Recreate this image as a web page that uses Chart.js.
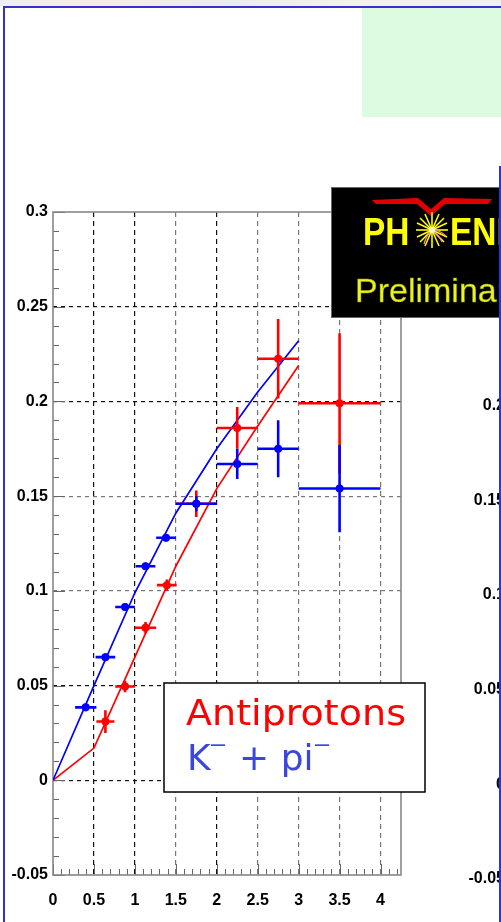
<!DOCTYPE html>
<html>
<head>
<meta charset="utf-8">
<script src="https://cdn.jsdelivr.net/npm/chart.js@4.4.1/dist/chart.umd.min.js"></script>
<style>
  body { margin: 0; background: #fff; }
  #page { position: relative; width: 501px; height: 922px; overflow: hidden; background: #fff; }
  .abs { position: absolute; }
  #strip { left: 0; top: 0; width: 501px; height: 6px; background: linear-gradient(90deg, #eeeef2, #f6ece8 20%, #e9ecf3 45%, #f4f2ee 70%, #eef0f4); }
  .blue { background: #3333cc; }
  #green { left: 362px; top: 8px; width: 139px; height: 109px; background: #ddfbe0; }
  #chart { left: 0; top: 0; }
  #logo { left: 332px; top: 188px; width: 169px; height: 129px; background: #000; box-shadow: 0 0 0 1px #666; overflow: hidden; }
</style>
</head>
<body>
<div id="page">
  <div id="strip" class="abs"></div>
  <div id="green" class="abs"></div>
  <canvas id="chart" class="abs" width="501" height="922"></canvas>
  <div id="logo" class="abs">
    <svg width="169" height="129" xmlns="http://www.w3.org/2000/svg">
      <polygon fill="#e00000" points="40,12 86,10 99,21 112,10 160,11 156,16 113,16 99,28 85,16 44,16"/>
      <g transform="translate(31,57) scale(0.88,1)">
        <text x="0" y="0" font-family="Liberation Sans" font-weight="bold" font-size="38" fill="#ffff00">PH</text>
      </g>
      <g stroke="#ffff00" stroke-width="1.6">
        <line x1="100" y1="24" x2="100" y2="60"/>
        <line x1="84" y1="42" x2="116" y2="42"/>
        <line x1="88" y1="30" x2="112" y2="54"/>
        <line x1="112" y1="30" x2="88" y2="54"/>
        <line x1="93" y1="26" x2="107" y2="58"/>
        <line x1="107" y1="26" x2="93" y2="58"/>
        <line x1="85" y1="35" x2="115" y2="49"/>
        <line x1="85" y1="49" x2="115" y2="35"/>
      </g>
      <g stroke="#ff88aa" stroke-width="1.2" fill="none">
        <path d="M100,42 q6,4 10,12"/>
        <path d="M100,42 q8,0 14,6"/>
        <path d="M100,42 q-6,6 -8,14"/>
      </g>
      <circle cx="100" cy="42" r="3" fill="#ffffcc"/>
      <g transform="translate(118,57) scale(0.88,1)">
        <text x="0" y="0" font-family="Liberation Sans" font-weight="bold" font-size="38" fill="#ffff00">ENIX</text>
      </g>
      <text x="23" y="114" font-family="Liberation Sans" font-size="34" fill="#f0f020" stroke="#88aa00" stroke-width="0.4">Preliminary</text>
    </svg>
  </div>
  <div class="abs blue" style="left:3px; top:6px; width:498px; height:2px;"></div>
  <div class="abs blue" style="left:3px; top:6px; width:2px; height:916px;"></div>
  <div class="abs blue" style="left:499px; top:166px; width:2px; height:756px;"></div>
</div>
<script>
// Antiprotons (red)
const pbarX    = [0.64, 0.88, 1.13, 1.39, 1.75, 2.25, 2.75, 3.5];
const pbarY    = [0.031, 0.0495, 0.0805, 0.103, 0.146, 0.186, 0.2225, 0.199];
const pbarXErr = [0.11, 0.12, 0.13, 0.12, 0.25, 0.25, 0.25, 0.5];
const pbarYErr = [0.006, 0.003, 0.003, 0.003, 0.007, 0.011, 0.021, 0.037];

// K- + pi- (blue)
const kpiX    = [0.4, 0.64, 0.88, 1.13, 1.38, 1.75, 2.25, 2.75, 3.5];
const kpiY    = [0.0385, 0.065, 0.0915, 0.113, 0.128, 0.146, 0.167, 0.175, 0.154];
const kpiXErr = [0.13, 0.12, 0.12, 0.12, 0.12, 0.25, 0.25, 0.25, 0.5];
const kpiYErr = [0.002, 0.002, 0.002, 0.002, 0.002, 0.004, 0.008, 0.015, 0.023];

// model curves
const fitX    = [0, 0.5, 1, 1.5, 2, 2.5, 3];
const pbarFit = [0, 0.017, 0.065, 0.113, 0.154, 0.187, 0.219];
const kpiFit  = [0, 0.05, 0.099, 0.141, 0.175, 0.205, 0.232];

// axes
const xTicks = [0, 0.5, 1, 1.5, 2, 2.5, 3, 3.5, 4];
const xTickLabels = ['0', '0.5', '1', '1.5', '2', '2.5', '3', '3.5', '4'];
const yTicks = [-0.05, 0, 0.05, 0.1, 0.15, 0.2, 0.25, 0.3];
const yTickLabels = ['-0.05', '0', '0.05', '0.1', '0.15', '0.2', '0.25', '0.3'];
const rightPanelTicks = [-0.05, 0, 0.05, 0.1, 0.15, 0.2];
const rightPanelLabels = ['-0.05', '0', '0.05', '0.1', '0.15', '0.2'];
const legendNames = ['Antiprotons', 'K', ' + pi'];
const SUP_MINUS = '\u207B';

const RED = '#ff0000';
const BLUE = '#0000ff';
const tickFont = { family: 'Liberation Sans', size: 16, weight: 'bold' };
const darkX = [0.5, 1, 2];
const darkY = [0, 0.05, 0.2, 0.25];

const toPoints = (xs, ys) => xs.map((v, i) => ({ x: v, y: ys[i] }));

const errorBars = {
  id: 'errorBars',
  beforeDatasetDraw(chart, args) {
    const ds = chart.data.datasets[args.index];
    if (!ds.xErr) return;
    const { ctx, scales: { x, y } } = chart;
    ctx.save();
    ctx.strokeStyle = ds.backgroundColor;
    ctx.lineWidth = 2.6;
    ds.data.forEach((p, i) => {
      const px = x.getPixelForValue(p.x);
      const py = y.getPixelForValue(p.y);
      ctx.beginPath();
      ctx.moveTo(x.getPixelForValue(p.x - ds.xErr[i]), py);
      ctx.lineTo(x.getPixelForValue(p.x + ds.xErr[i]), py);
      ctx.moveTo(px, y.getPixelForValue(p.y - ds.yErr[i]));
      ctx.lineTo(px, y.getPixelForValue(p.y + ds.yErr[i]));
      ctx.stroke();
    });
    ctx.restore();
  }
};

const frameAndTicks = {
  id: 'frameAndTicks',
  beforeDatasetsDraw(chart) {
    const { ctx, chartArea: a, scales: { x, y } } = chart;
    ctx.save();
    ctx.strokeStyle = '#666';
    ctx.lineWidth = 1;
    ctx.beginPath();
    for (let k = -5; k <= 30; k++) {
      const py = Math.round(y.getPixelForValue(k / 100)) + 0.5;
      const len = k % 5 === 0 ? 12 : 6;
      ctx.moveTo(a.left, py);
      ctx.lineTo(a.left + len, py);
    }
    for (let k = 0; k <= 42; k++) {
      const px = Math.round(x.getPixelForValue(k / 10)) + 0.5;
      const len = k % 5 === 0 ? 11 : 6;
      ctx.moveTo(px, a.bottom);
      ctx.lineTo(px, a.bottom - len);
    }
    ctx.stroke();
    ctx.strokeStyle = '#888';
    ctx.lineWidth = 1.6;
    ctx.strokeRect(a.left, a.top, a.right - a.left, a.bottom - a.top);
    ctx.restore();
  }
};

const overlays = {
  id: 'overlays',
  afterDraw(chart) {
    const { ctx, scales: { y } } = chart;
    ctx.save();
    // legend box
    ctx.fillStyle = '#fff';
    ctx.fillRect(164, 683, 261, 109);
    ctx.strokeStyle = '#000';
    ctx.lineWidth = 1.5;
    ctx.strokeRect(164, 683, 261, 109);
    ctx.textBaseline = 'alphabetic';
    ctx.font = '36px "DejaVu Sans"';
    const sx = 220 / ctx.measureText(legendNames[0]).width;
    ctx.save();
    ctx.translate(186, 0);
    ctx.scale(sx, 1);
    ctx.fillStyle = RED;
    ctx.fillText(legendNames[0], 0, 725);
    ctx.restore();
    // K^- + pi^-
    ctx.fillStyle = '#3a46e0';
    let cx = 187;
    ctx.fillText(legendNames[1], cx, 770);
    cx += ctx.measureText(legendNames[1]).width;
    ctx.fillText(SUP_MINUS, cx - 2, 763);
    cx += ctx.measureText(SUP_MINUS).width - 2;
    ctx.fillText(legendNames[2], cx, 770);
    cx += ctx.measureText(legendNames[2]).width;
    ctx.fillText(SUP_MINUS, cx - 1, 763);
    // tick labels of the neighbouring panel
    ctx.font = 'bold 16px "Liberation Sans"';
    ctx.fillStyle = '#000';
    ctx.textAlign = 'right';
    ctx.textBaseline = 'middle';
    rightPanelTicks.forEach((v, i) => {
      ctx.fillText(rightPanelLabels[i], 505, y.getPixelForValue(v) + 4);
    });
    ctx.restore();
  }
};

new Chart(document.getElementById('chart'), {
  type: 'scatter',
  data: {
    datasets: [
      {
        label: 'K- + pi-',
        data: toPoints(kpiX, kpiY),
        xErr: kpiXErr, yErr: kpiYErr,
        backgroundColor: BLUE, borderWidth: 0, pointRadius: 4
      },
      {
        label: 'Antiprotons',
        data: toPoints(pbarX, pbarY),
        xErr: pbarXErr, yErr: pbarYErr,
        backgroundColor: RED, borderWidth: 0, pointRadius: 4
      },
      {
        label: 'K- + pi- model',
        data: toPoints(fitX, kpiFit),
        showLine: true, borderColor: BLUE, borderWidth: 1.7, pointRadius: 0, tension: 0
      },
      {
        label: 'Antiprotons model',
        data: toPoints(fitX, pbarFit),
        showLine: true, borderColor: RED, borderWidth: 1.7, pointRadius: 0, tension: 0
      }
    ]
  },
  options: {
    responsive: false,
    animation: false,
    layout: { padding: { top: 212, right: 100, left: 0, bottom: 0 } },
    plugins: { legend: { display: false }, tooltip: { enabled: false } },
    scales: {
      x: {
        type: 'linear', min: 0, max: 4.25,
        afterBuildTicks: s => { s.ticks = xTicks.map(v => ({ value: v })); },
        afterFit: s => { s.height = 47; },
        grid: {
          drawTicks: false, lineWidth: 1.2,
          color: c => c.tick && c.tick.value === 0 ? 'rgba(0,0,0,0)' : (darkX.includes(c.tick && c.tick.value) ? '#111' : '#777')
        },
        border: { display: false, dash: [5, 4] },
        ticks: {
          padding: 16, color: '#000', font: tickFont, maxRotation: 0, autoSkip: false,
          callback: (v, i) => xTickLabels[i]
        }
      },
      y: {
        type: 'linear', min: -0.05, max: 0.3,
        afterBuildTicks: s => { s.ticks = yTicks.map(v => ({ value: v })); },
        afterFit: s => { s.width = 53; },
        grid: {
          drawTicks: false, lineWidth: 1.2,
          color: c => {
            const v = c.tick ? Math.round(c.tick.value * 100) / 100 : null;
            if (v === -0.05 || v === 0.3) return 'rgba(0,0,0,0)';
            return darkY.includes(v) ? '#111' : '#777';
          }
        },
        border: { display: false, dash: [4, 4] },
        ticks: {
          padding: 5, color: '#000', font: tickFont, autoSkip: false,
          callback: (v, i) => yTickLabels[i]
        }
      }
    }
  },
  plugins: [errorBars, frameAndTicks, overlays]
});
</script>
</body>
</html>
